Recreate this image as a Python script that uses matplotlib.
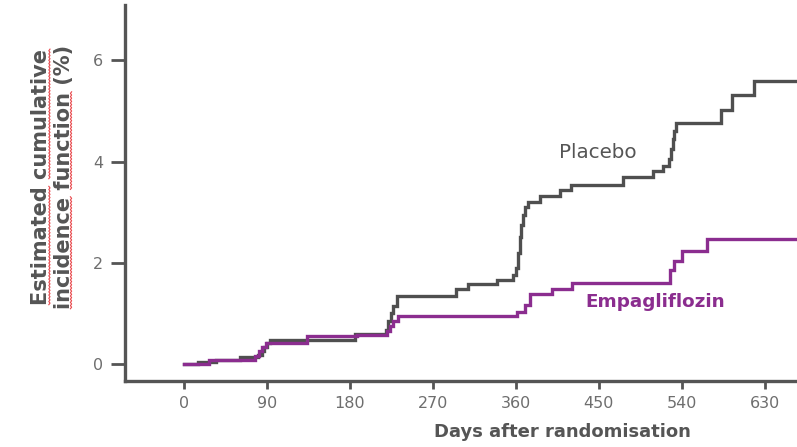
import matplotlib
matplotlib.use("Agg")
import matplotlib.pyplot as plt
from matplotlib.lines import Line2D

# Data (days, cumulative incidence %)
placebo_days = [0, 15, 35, 61, 80, 84, 87, 90, 93, 185, 219, 221, 224, 227, 231,
                295, 308, 339, 357, 360, 362, 364, 366, 368, 370, 373, 386, 408,
                420, 476, 509, 520, 526, 528, 530, 532, 534, 582, 594, 618, 670]
placebo_vals = [0.0, 0.03, 0.08, 0.13, 0.18, 0.26, 0.33, 0.40, 0.47, 0.59, 0.66,
                0.85, 1.00, 1.15, 1.33, 1.48, 1.58, 1.66, 1.75, 1.90, 2.20, 2.50,
                2.75, 2.95, 3.10, 3.19, 3.31, 3.43, 3.54, 3.69, 3.81, 3.92, 4.05,
                4.25, 4.45, 4.60, 4.77, 5.03, 5.31, 5.59, 5.59]

empa_days = [0, 27, 77, 81, 85, 89, 133, 188, 220, 223, 227, 232, 361, 370, 375,
             399, 421, 527, 532, 540, 567, 670]
empa_vals = [0.0, 0.08, 0.15, 0.25, 0.33, 0.40, 0.54, 0.57, 0.64, 0.75, 0.85,
             0.94, 1.02, 1.17, 1.37, 1.48, 1.60, 1.86, 2.03, 2.22, 2.46, 2.46]

x_ticks = [0, 90, 180, 270, 360, 450, 540, 630]
y_ticks = [0, 2, 4, 6]

ylabel_lines = ["Estimated cumulative", "incidence function (%)"]
underlined = ["Estimated", "cumulative", "incidence", "function"]

GRAY = "#4f4f4f"
PURPLE = "#8b2d8f"
AXIS = "#555555"
TICKLBL = "#6e6e6e"

plt.rcParams['font.family'] = ['DejaVu Sans']

fig = plt.figure(figsize=(7.97, 4.47), dpi=100)
ax = fig.add_axes([0.157, 0.148, 0.843, 0.841])

ax.plot(placebo_days, placebo_vals, drawstyle='steps-post', color=GRAY, lw=2.4,
        solid_joinstyle='miter')
ax.plot(empa_days, empa_vals, drawstyle='steps-post', color=PURPLE, lw=2.4,
        solid_joinstyle='miter')

ax.set_xlim(-64, 665)
ax.set_ylim(-0.34, 7.1)
ax.set_xticks(x_ticks)
ax.set_yticks(y_ticks)

for s in ['top', 'right']:
    ax.spines[s].set_visible(False)
for s in ['left', 'bottom']:
    ax.spines[s].set_color(AXIS)
    ax.spines[s].set_linewidth(2.4)

ax.tick_params(axis='x', length=6, width=2.0, color=AXIS, labelcolor=TICKLBL,
               labelsize=11.5, pad=5)
ax.tick_params(axis='y', length=10, width=2.0, color=AXIS, labelcolor=TICKLBL,
               labelsize=11.5, pad=6)

ax.set_xlabel("Days after randomisation", fontsize=13, fontweight='bold',
              color="#555555")
ax.xaxis.set_label_coords((562 - 125) / (797 - 125), -0.112)
YL_FS = 15
ylab = ax.set_ylabel("\n".join(ylabel_lines), fontsize=YL_FS,
                     fontweight='bold', color="#555555", linespacing=1.2,
                     multialignment='center')
ax.yaxis.set_label_coords(-0.076, 0.543)

ax.text(449, 4.18, "Placebo", color="#555555", fontsize=14.3, ha='center', va='center')
ax.text(511, 1.23, "Empagliflozin", color=PURPLE, fontsize=13.2, fontweight='bold',
        ha='center', va='center')

# spell-check style red wavy underlines under the y-label words
fig.canvas.draw()
renderer = fig.canvas.get_renderer()
W, H = fig.bbox.width, fig.bbox.height


def text_w(s):
    t = fig.text(0, 0, s, fontsize=YL_FS, fontweight='bold')
    w = t.get_window_extent(renderer).width
    t.remove()
    return w


bb = ylab.get_window_extent(renderer)
ncol = len(ylabel_lines)
colw = bb.width / ncol
cy = (bb.y0 + bb.y1) / 2
for i, line in enumerate(ylabel_lines):
    lw_tot = text_w(line)
    y_start = cy - lw_tot / 2
    x_ul = bb.x0 + colw * (i + 1) - colw * 0.16
    words = line.split(" ")
    for j, wd in enumerate(words):
        if wd not in underlined:
            continue
        upto = " ".join(words[:j + 1])
        e = text_w(upto)
        s = e - text_w(wd)
        ys = []
        xs = []
        k = 0
        y = y_start + s
        while y <= y_start + e:
            ys.append(y / H)
            xs.append((x_ul + (1.0 if k % 2 else -0.2)) / W)
            y += 1.6
            k += 1
        fig.add_artist(Line2D(xs, ys, color="#e8474b", lw=0.8,
                              transform=fig.transFigure))

fig.savefig("out.png", dpi=100)
